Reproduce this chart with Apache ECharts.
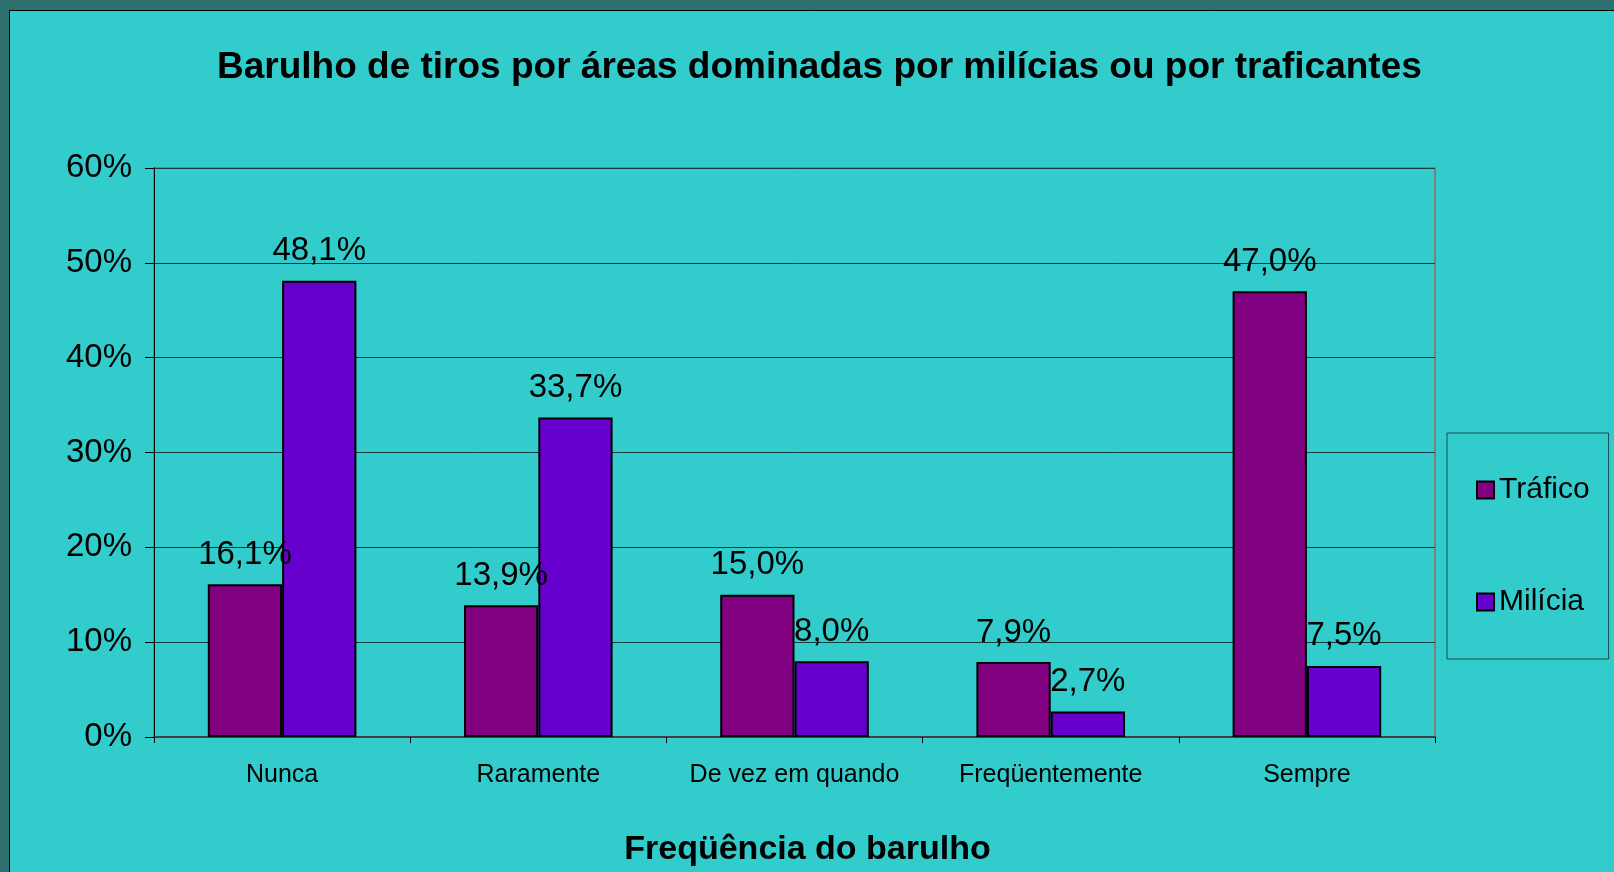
<!DOCTYPE html>
<html>
<head>
<meta charset="utf-8">
<script src="https://cdn.jsdelivr.net/npm/echarts@6/dist/echarts.min.js"></script>
<style>
  html, body { margin: 0; padding: 0; background: #2e7070; }
  #chart { width: 1614px; height: 872px; }
</style>
</head>
<body>
<div id="chart"></div>
<script>
// dados
const categorias = ['Nunca', 'Raramente', 'De vez em quando', 'Freqüentemente', 'Sempre'];
const trafico = [16.1, 13.9, 15.0, 7.9, 47.0];
const milicia = [48.1, 33.7, 8.0, 2.7, 7.5];
const ticksY = [0, 10, 20, 30, 40, 50, 60];

const fmtPct = v => v.toFixed(1).replace('.', ',') + '%';

const chart = echarts.init(document.getElementById('chart'));

const rotulo = {
    show: true,
    position: 'top',
    distance: 13,
    color: '#000',
    fontFamily: 'Liberation Sans',
    fontSize: 33,
    formatter: p => fmtPct(p.value)
};

const option = {
    backgroundColor: '#2e7070',
    animation: false,
    textStyle: { fontFamily: 'Liberation Sans' },
    graphic: [{
        type: 'rect',
        z: -10,
        shape: { x: 9.5, y: 10.5, width: 1610, height: 870 },
        style: { fill: '#33CCCC', stroke: '#000', lineWidth: 1 }
    }],
    title: {
        text: 'Barulho de tiros por áreas dominadas por milícias ou por traficantes',
        left: 212,
        top: 44,
        textStyle: { fontFamily: 'Liberation Sans', fontWeight: 'bold', fontSize: 37, color: '#000' }
    },
    legend: {
        orient: 'vertical',
        left: 1447,
        top: 433,
        padding: [42, 19, 42, 29],
        itemGap: 82,
        itemWidth: 17,
        itemHeight: 17,
        itemTextGap: 15,
        icon: 'rect',
        borderColor: '#1a4a4a',
        borderWidth: 1,
        textStyle: { fontFamily: 'Liberation Sans', fontSize: 30, color: '#000' },
        data: ['Tráfico', 'Milícia']
    },
    grid: {
        left: 154,
        top: 168,
        right: 179,
        bottom: 135,
        outerBoundsMode: 'none',
        containLabel: false,
        show: true,
        borderColor: '#808080',
        borderWidth: 2
    },
    xAxis: {
        type: 'category',
        data: categorias,
        name: 'Freqüência do barulho',
        nameLocation: 'middle',
        nameGap: 96,
        nameTextStyle: {
            fontFamily: 'Liberation Sans', fontWeight: 'bold', fontSize: 34, color: '#000',
            padding: [0, 0, 0, 26]
        },
        axisLine: { lineStyle: { color: '#404040', width: 2 } },
        axisTick: { show: true, length: 6, interval: 0, lineStyle: { color: '#000' } },
        axisLabel: { fontSize: 25, color: '#000', margin: 26, interval: 0, fontFamily: 'Liberation Sans' }
    },
    yAxis: {
        type: 'value',
        min: 0,
        max: 60,
        interval: 10,
        axisLine: { show: true, lineStyle: { color: '#000', width: 1 } },
        axisTick: { show: true, length: 9, lineStyle: { color: '#000' } },
        axisLabel: {
            fontSize: 33,
            color: '#000',
            margin: 22,
            fontFamily: 'Liberation Sans',
            formatter: v => ticksY.includes(v) ? v + '%' : ''
        },
        splitLine: { lineStyle: { color: '#0f3c3c', width: 1 } }
    },
    series: [
        {
            name: 'Tráfico',
            type: 'bar',
            data: trafico,
            barGap: '0%',
            barCategoryGap: '42%',
            itemStyle: { color: '#800080', borderColor: '#000', borderWidth: 2 },
            label: rotulo
        },
        {
            name: 'Milícia',
            type: 'bar',
            data: milicia,
            itemStyle: { color: '#6600CC', borderColor: '#000', borderWidth: 2 },
            label: rotulo
        }
    ]
};

chart.setOption(option);
</script>
</body>
</html>
